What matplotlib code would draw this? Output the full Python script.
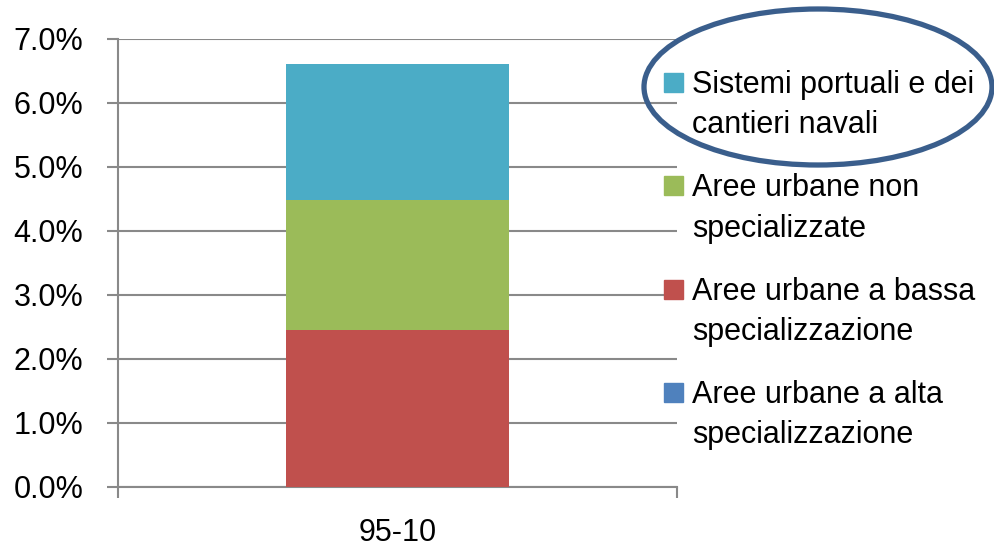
import matplotlib
matplotlib.use("Agg")
import matplotlib.pyplot as plt
from matplotlib.patches import Rectangle, Ellipse
from matplotlib.ticker import PercentFormatter, FixedLocator

plt.rcParams['font.family'] = ['Liberation Sans', 'DejaVu Sans']

categories = ["95-10"]
series_names = [
    "Aree urbane a alta\nspecializzazione",
    "Aree urbane a bassa\nspecializzazione",
    "Aree urbane non\nspecializzate",
    "Sistemi portuali e dei\ncantieri navali",
]
series_values = [
    [0.0],
    [0.0246],
    [0.0203],
    [0.0212],
]
series_colors = ["#4F81BD", "#C0504D", "#9BBB59", "#4BACC6"]

W, H = 995, 548
fs = 22
fig = plt.figure(figsize=(W / 100, H / 100), dpi=100)
ax = fig.add_axes([118 / W, 1 - 487 / H, (677 - 118) / W, (487 - 39) / H])

bottom = [0.0] * len(categories)
for vals, color in zip(series_values, series_colors):
    ax.bar(range(len(categories)), vals, width=0.4, bottom=bottom, color=color, zorder=3)
    bottom = [b + v for b, v in zip(bottom, vals)]

grid_color = "#898989"
ax.set_xlim(-0.5, len(categories) - 0.5)
ax.set_ylim(0, 0.07)
ax.set_yticks([i / 100 for i in range(8)])
ax.yaxis.set_major_formatter(PercentFormatter(1, decimals=1))
ax.yaxis.grid(True, color=grid_color, linewidth=1.5, zorder=0)
ax.set_xticks(range(len(categories)))
ax.set_xticklabels(categories)
ax.xaxis.set_minor_locator(FixedLocator([-0.5 + i for i in range(len(categories) + 1)]))

ax.tick_params(axis="y", length=8, width=1.5, color=grid_color, pad=17, labelsize=fs)
ax.tick_params(axis="x", which="major", length=0, pad=22, labelsize=fs)
ax.tick_params(axis="x", which="minor", length=8, width=1.5, color=grid_color)
for side in ("top", "right"):
    ax.spines[side].set_visible(False)
for side in ("left", "bottom"):
    ax.spines[side].set_color(grid_color)
    ax.spines[side].set_linewidth(1.5)

# legend drawn by hand so the swatch lines up with the first text line
sq = 19
for i, (name, color) in enumerate(zip(series_names[::-1], series_colors[::-1])):
    top = 73 + i * 103.3
    fig.patches.append(Rectangle((664 / W, 1 - (top + sq) / H), sq / W, sq / H,
                                 transform=fig.transFigure, color=color))
    fig.text(692 / W, 1 - (top - 3) / H, name, fontsize=fs, va="top", ha="left",
             linespacing=1.45)

fig.patches.append(Ellipse((818 / W, 1 - 87 / H), 348 / W, 156 / H,
                           transform=fig.transFigure, fill=False,
                           edgecolor="#3A5E8C", linewidth=3.8))

fig.savefig("out.png", dpi=100)
